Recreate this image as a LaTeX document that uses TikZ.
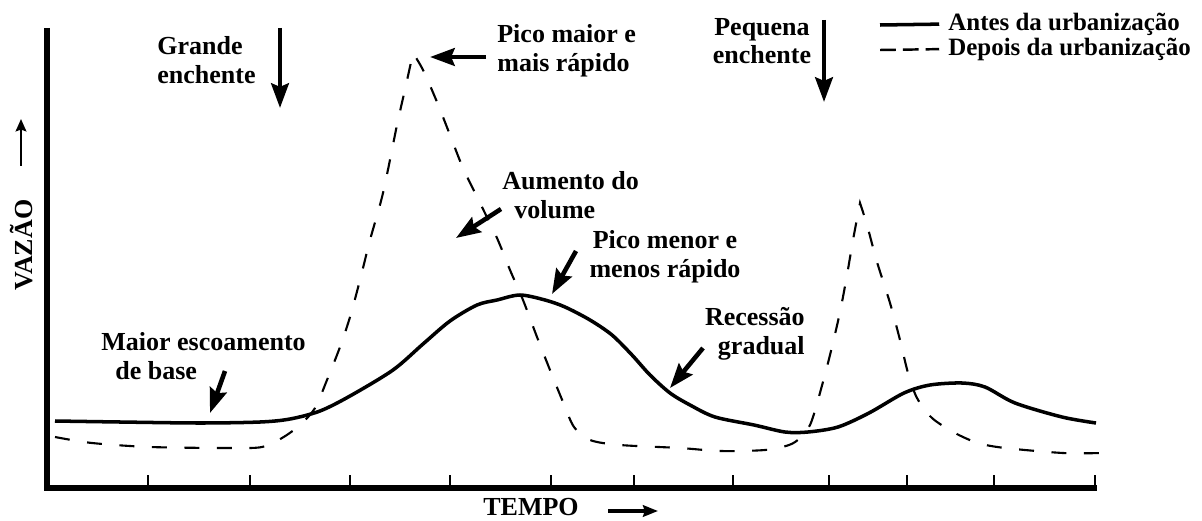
\documentclass[tikz,border=0pt]{standalone}
\usepackage{fontspec}
\setmainfont{Liberation Serif}
\usetikzlibrary{arrows.meta}

\tikzset{
  lbl/.style={font=\bfseries\fontsize{14.8}{16.3}\selectfont, inner sep=0pt},
  legendlbl/.style={font=\bfseries\fontsize{14.2}{16}\selectfont, inner sep=0pt, anchor=west},
  note/.style={-{Stealth[length=14pt, width=10pt, inset=2pt]}, line width=2.6pt},
  axisline/.style={line width=3.4pt},
  tickline/.style={line width=1.6pt},
  before/.style={line width=2pt},
  after/.style={line width=1.2pt, dash pattern=on 8.5pt off 10pt},
}

\begin{document}
\begin{tikzpicture}[>=stealth, x=0.02cm, y=-0.02cm]

        \useasboundingbox (0,0) rectangle (1202,520);

        % eixos
        \coordinate (top) at (47,28);
        \coordinate (origin) at (47,488);
        \coordinate (right) at (1097,488);
        \draw[axisline] (top) -- (origin) -- (right);
        \foreach \x in {148,250,350,450,551,634,733,829,907,994,1095}
            \draw[tickline] (\x,488) -- (\x,475);

        % antes da urbanizacao
        \draw[before] plot[smooth, tension=0.5] coordinates {(55,421) (120,422) (200,423) (260,422) (290,419) (320,411) (350,396) (393,370) (423,344) (450,321) (477,305) (497,300) (520,295) (545,300) (565,307) (590,320) (612,335) (632,355) (650,375) (670,393) (690,405) (715,417) (754,425) (785,432) (808,432) (838,427) (869,413) (904,393) (930,385) (962,383) (985,387) (1015,403) (1062,417) (1096,423)};

        % depois da urbanizacao
        \draw[after] plot[smooth, tension=0.5] coordinates {(55,437) (92,443) (150,447) (230,448) (262,447) (282,438) (300,425) (315,408) (327,380) (340,347) (350,317) (360,280) (370,240) (383,193) (397,125) (406,85) (413,53)}
            -- plot[smooth, tension=0.5] coordinates {(413,53) (423,70) (437,102) (450,135) (463,168) (480,203) (497,238) (510,270) (523,300) (537,337) (550,370) (563,402) (574,427) (590,440) (620,445) (680,448) (720,451) (765,450) (789,445) (800,438) (810,425) (818,400) (830,355) (840,312) (847,275) (853,240) (860,203)}
            -- plot[smooth, tension=0.5] coordinates {(860,203) (867,225) (877,262) (890,303) (900,340) (908,373) (917,398) (932,418) (955,433) (978,443) (1005,448) (1063,453) (1102,453)};

        % rotulos dos eixos
        \node[lbl, rotate=90] at (22,245) (vazao) {VAZÃO};
        \node[lbl] at (531,507) (tempo) {TEMPO};
        \coordinate (vazaotail) at (21,166);
        \coordinate (vazaotip) at (21,119);
        \coordinate (tempotail) at (608,511);
        \coordinate (tempotip) at (658,511);
        \draw[-{Stealth[length=7pt, width=6pt, inset=1pt]}, line width=1.6pt] (vazaotail) -- (vazaotip);
        \draw[-{Stealth[length=8.5pt, width=6.5pt, inset=1pt]}, line width=2.8pt] (tempotail) -- (tempotip);

        % legenda
        \node[legendlbl] at (948,24) (antes) {Antes da urbanização};
        \node[legendlbl] at (948,49) (depois) {Depois da urbanização};
        \coordinate (antesline) at (880,25);
        \coordinate (depoisline) at (880,50);
        \draw[before, shorten >=5pt] (antesline) -- (antes.west);
        \draw[line width=1.4pt, dash pattern=on 9pt off 4pt, shorten >=5pt] (depoisline) -- (depois.west);

        % anotacoes
        \node[lbl, align=left, anchor=west] at (157,60) (grande) {Grande\\enchente};
        \node[lbl, align=left, anchor=west] at (497,51) (picomaior) {Pico maior e\\mais rápido};
        \node[lbl, align=center] at (762,41) (pequena) {Pequena\\enchente};
        \node[lbl, align=left, anchor=west] at (502,195) (aumento) {Aumento do\\\hspace*{0.24cm}volume};
        \node[lbl, align=center] at (665,257) (picomenor) {Pico menor e\\menos rápido};
        \node[lbl, align=left, anchor=west] at (101,356) (base) {Maior escoamento\\\hspace*{0.28cm}de base};
        \node[lbl, align=right, anchor=east] at (805,334) (recessao) {Recessão\\gradual};

        \coordinate (grandetail) at (280,28);
        \coordinate (grandetip) at (280,108);
        \coordinate (picomaiortail) at (486,57);
        \coordinate (picomaiortip) at (430,57);
        \coordinate (pequenatail) at (824,20);
        \coordinate (pequenatip) at (824,102);
        \coordinate (aumentotail) at (501,209);
        \coordinate (aumentotip) at (456,238);
        \coordinate (picomenortail) at (576,251);
        \coordinate (picomenortip) at (552,294);
        \coordinate (basetail) at (225,371);
        \coordinate (basetip) at (210,413);
        \coordinate (recessaotail) at (703,348);
        \coordinate (recessaotip) at (670,388);

        \draw[note] (grandetail) -- (grandetip);
        \draw[note] (picomaiortail) -- (picomaiortip);
        \draw[note] (pequenatail) -- (pequenatip);
        \draw[note] (aumentotail) -- (aumentotip);
        \draw[note] (picomenortail) -- (picomenortip);
        \draw[note] (basetail) -- (basetip);
        \draw[note] (recessaotail) -- (recessaotip);

\end{tikzpicture}
\end{document}
